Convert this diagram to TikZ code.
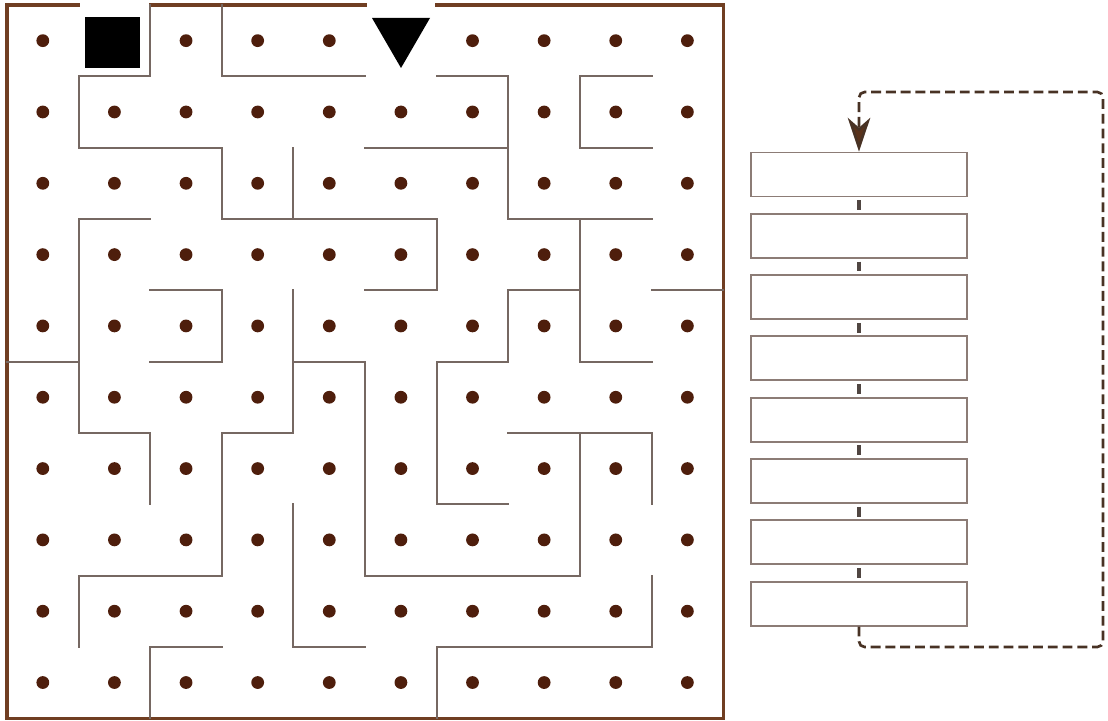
\documentclass[tikz,border=0pt]{standalone}
\usetikzlibrary{arrows.meta,positioning}
\definecolor{rim}{RGB}{112,62,34}
\definecolor{wallc}{RGB}{118,104,98}
\definecolor{pip}{RGB}{78,30,12}
\definecolor{slotc}{RGB}{140,124,118}
\definecolor{markc}{RGB}{80,70,66}
\definecolor{loopc}{RGB}{72,50,36}
\tikzset{
  rimline/.style={draw=rim,line width=2.3pt,line cap=rect},
  wall/.style={draw=wallc,line width=1.4pt,line cap=rect},
  pipdot/.style={fill=pip},
  slot/.style={rectangle,draw=slotc,line width=1.3pt,minimum width=5.4cm,minimum height=1.1cm,inner sep=0pt},
  link/.style={draw=markc,line width=2.2pt,shorten <=2pt,shorten >=2pt},
  back/.style={draw=loopc,line width=1.9pt,dash pattern=on 7pt off 3.5pt,rounded corners=4pt,
    -{Stealth[length=24pt,width=16pt,inset=7pt,fill=rim!80!black]}},
}

\begin{document}
\begin{tikzpicture}[x=0.025cm,y=-0.025cm]
\useasboundingbox (0,0) rectangle (1108,721);
% maze, one unit per cell
\begin{scope}[shift={(7,5)},x=1.79cm,y=-1.7825cm]
  \foreach \c in {0,...,9}
    \foreach \r in {0,...,9}
      \fill[pipdot] (\c+.5,\r+.5) circle (0.16cm);
  % outer rim with two openings
  \draw[rimline] (1,0) -- (0,0) -- (0,10) -- (10,10) -- (10,0) -- (6,0);
  \draw[rimline] (2,0) -- (5,0);
  % inner walls
  \draw[wall] (2,0) -- (2,1) -- (1,1) -- (1,2) -- (3,2) -- (3,3) -- (6,3) -- (6,4) -- (5,4);
  \draw[wall] (3,0) -- (3,1) -- (5,1);
  \draw[wall] (4,2) -- (4,3);
  \draw[wall] (6,1) -- (7,1) -- (7,3) -- (9,3);
  \draw[wall] (5,2) -- (7,2);
  \draw[wall] (9,1) -- (8,1) -- (8,2) -- (9,2);
  \draw[wall] (8,3) -- (8,5) -- (9,5);
  \draw[wall] (2,3) -- (1,3) -- (1,6) -- (2,6) -- (2,7);
  \draw[wall] (0,5) -- (1,5);
  \draw[wall] (2,4) -- (3,4) -- (3,5) -- (2,5);
  \draw[wall] (4,4) -- (4,6) -- (3,6) -- (3,8) -- (1,8) -- (1,9);
  \draw[wall] (4,5) -- (5,5) -- (5,8) -- (8,8) -- (8,6);
  \draw[wall] (7,6) -- (9,6) -- (9,7);
  \draw[wall] (8,4) -- (7,4) -- (7,5) -- (6,5) -- (6,7) -- (7,7);
  \draw[wall] (9,4) -- (10,4);
  \draw[wall] (4,7) -- (4,9) -- (5,9);
  \draw[wall] (3,9) -- (2,9) -- (2,10);
  \draw[wall] (9,8) -- (9,9) -- (6,9) -- (6,10);
\end{scope}
% entry and exit marks
\fill (85,17) rectangle (140,68);
\fill (372,18) -- (430,18) -- (401,68) -- cycle;
% stack of slots
\foreach \k in {1,...,8}
  \node[slot] (b\k) at (859,174.5+61.3*\k-61.3) {};
\foreach \k [evaluate=\k as \nx using int(\k+1)] in {1,...,7}
  \draw[link] (b\k.south) -- (b\nx.north);
\coordinate (lowR) at (1103,647);
\coordinate (topL) at (859,92);
\draw[back] (b8.south) |- (lowR) |- (topL) -- (b1.north);
\end{tikzpicture}
\end{document}
